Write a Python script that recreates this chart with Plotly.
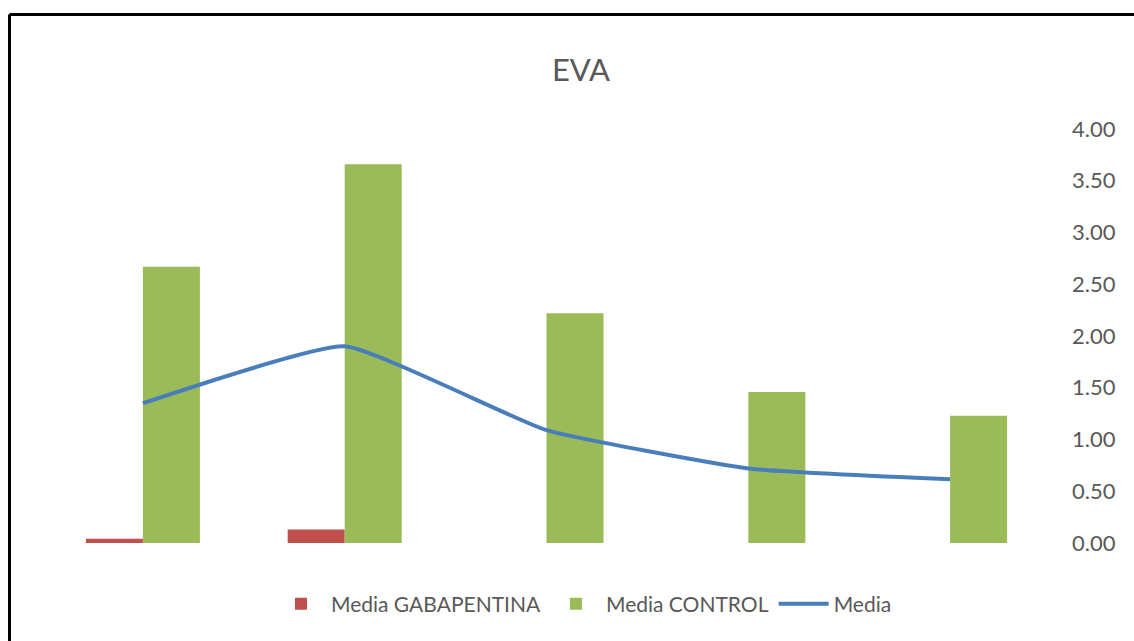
import plotly.graph_objects as go

categories = ["1", "2", "3", "4", "5"]
media_gabapentina = [0.04, 0.13, 0.0, 0.0, 0.0]
media_control = [2.67, 3.66, 2.22, 1.46, 1.23]
media = [1.35, 1.90, 1.09, 0.72, 0.615]
y_ticks = [0, 0.5, 1, 1.5, 2, 2.5, 3, 3.5, 4]

W, H = 1134, 641
ML, MR, MT, MB = 42, 83, 129, 98
PW, PH = W - ML - MR, H - MT - MB

font_family = "Lato"
txt = "#595959"

fig = go.Figure()
fig.add_trace(go.Bar(x=categories, y=media_gabapentina, name="Media GABAPENTINA",
                     marker=dict(color="#C0504D", line=dict(width=0))))
fig.add_trace(go.Bar(x=categories, y=media_control, name="Media CONTROL",
                     marker=dict(color="#9BBB59", line=dict(width=0))))
fig.add_trace(go.Scatter(x=categories, y=media, name="Media", mode="lines",
                         line=dict(color="#4A7EBB", width=4, shape="spline", smoothing=0.4)))

def px_x(p):
    return (p - ML) / PW

def px_y(p):
    return (H - MB - p) / PH

shapes = [
    dict(type="line", xref="paper", yref="paper", x0=px_x(9.5), x1=px_x(1140),
         y0=px_y(14.5), y1=px_y(14.5), line=dict(color="black", width=3)),
    dict(type="line", xref="paper", yref="paper", x0=px_x(9.5), x1=px_x(9.5),
         y0=px_y(14.5), y1=px_y(650), line=dict(color="black", width=3)),
]

fig.update_layout(
    width=W, height=H,
    margin=dict(l=ML, r=MR, t=MT, b=MB),
    paper_bgcolor="white", plot_bgcolor="white",
    barmode="group", bargap=0.435, bargroupgap=0,
    title=dict(text="EVA", x=581 / W, xanchor="center", xref="container",
               y=1 - 70 / H, yanchor="middle", yref="container",
               font=dict(family=font_family, size=31, color=txt)),
    legend=dict(orientation="h", xref="container", yref="container",
                x=584 / W, xanchor="center", y=1 - 604 / H, yanchor="middle",
                font=dict(family=font_family, size=21, color=txt),
                itemwidth=50, traceorder="normal"),
    shapes=shapes,
    xaxis=dict(showticklabels=False, showgrid=False, zeroline=False, showline=False,
               ticks=""),
    yaxis=dict(side="right", range=[0, 4], tickvals=y_ticks, tickformat=".2f",
               showgrid=False, zeroline=False, showline=False, ticks="",
               ticklabelstandoff=20,
               tickfont=dict(family=font_family, size=22, color=txt)),
)

fig.write_html("out.html")
